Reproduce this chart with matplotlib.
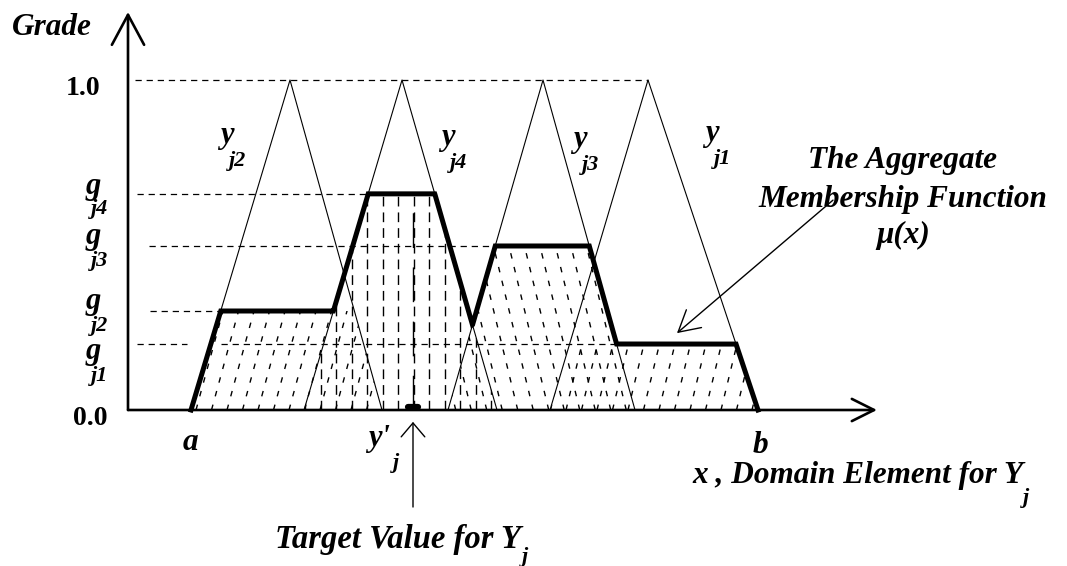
import numpy as np
import matplotlib
matplotlib.use("Agg")
import matplotlib.pyplot as plt
from matplotlib.patches import Polygon
from matplotlib.collections import LineCollection

plt.rcParams['lines.scale_dashes'] = False

# ---- data (domain units on x, grade on y) ----
tri_names = ['j2', 'j4', 'j3', 'j1']
tri_left = [0.63, 1.76, 3.20, 4.22]
tri_peak = [1.62, 2.74, 4.15, 5.20]
tri_right = [2.54, 3.69, 5.07, 6.30]
tri_grade = [0.30, 0.655, 0.497, 0.20]

grade_names = ['j4', 'j3', 'j2', 'j1']
grade_levels = [0.655, 0.497, 0.30, 0.20]
y_target = 2.85

# ---- style ----
hatch_lean = [0.9, 0.0, -0.8, 0.8]
hatch_dash = [(4.0, 6.2), (7.0, 4.3), (4.0, 6.2), (4.0, 6.2)]
tri_label_x = [0.99, 3.20, 4.52, 5.84]
tri_label_y = [0.809, 0.803, 0.797, 0.815]
g_label_y = [0.655, 0.503, 0.306, 0.155]
sub_y = [0.594, 0.436, 0.239, 0.088]

FONT = 'Liberation Serif'
fs = 22.5
fs_sub = 16

fig = plt.figure(figsize=(10.67, 5.66), dpi=100)
ax = fig.add_axes([0, 0, 1, 1])
ax.set_xlim(-1.28, 9.39)
ax.set_ylim(-156 / 330, 410 / 330)
ax.axis('off')


def tri(x, l, p, r):
    return np.clip(np.minimum((x - l) / (p - l), (r - x) / (r - p)), 0, None)


# triangles
for l, p, r in zip(tri_left, tri_peak, tri_right):
    ax.plot([l, p, r], [0, 1, 0], color='k', lw=0.8)

# hatching of each clipped triangle
for l, p, r, g, lean, dash in zip(tri_left, tri_peak, tri_right, tri_grade,
                                   hatch_lean, hatch_dash):
    verts = [(l, 0), (l + g * (p - l), g), (r - g * (r - p), g), (r, 0)]
    clip = Polygon(verts, closed=True, fill=False, edgecolor='none')
    ax.add_patch(clip)
    offs = np.arange(l - abs(lean) * g - 0.3, r + 0.3, 0.155)
    segs = [[(c, 0), (c + lean * (g + 0.05), g + 0.05)] for c in offs]
    lc = LineCollection(segs, colors='k', linewidths=1.0,
                        linestyles=[(0, dash)])
    lc.set_clip_path(clip)
    ax.add_collection(lc)

# aggregate membership function
xs = np.linspace(tri_left[0], tri_right[-1], 4000)
mu = np.max([np.minimum(tri(xs, l, p, r), g) for l, p, r, g in
             zip(tri_left, tri_peak, tri_right, tri_grade)], axis=0)
ax.plot(xs, mu, color='k', lw=3.6, solid_joinstyle='miter')

# horizontal dashed grade lines
gdash = (0, (4.5, 3.5))
ax.plot([0.07, max(tri_peak)], [1.0, 1.0], color='k', lw=0.9, ls=gdash)
ends = {}
for name, l, p, g in zip(tri_names, tri_left, tri_peak, tri_grade):
    ends[name] = l + g * (p - l)
# g1 runs to where y_j3 falls to g1
ends['j1'] = tri_right[2] - grade_levels[3] * (tri_right[2] - tri_peak[2])
starts = {'j4': 0.09, 'j3': 0.21, 'j2': 0.22, 'j1': 0.09}
for name, lev in zip(grade_names, grade_levels):
    if name == 'j1':
        ax.plot([starts[name], tri_left[0] - 0.04], [lev, lev], color='k', lw=0.9, ls=gdash)
        ax.plot([ends['j2'], ends[name]], [lev, lev], color='k', lw=0.9, ls=gdash)
    else:
        ax.plot([starts[name], ends[name]], [lev, lev], color='k', lw=0.9, ls=gdash)

# target value line
ax.plot([y_target, y_target], [0, grade_levels[0]], color='k', lw=1.0,
        ls=(0, (25, 14)))
ax.plot([y_target - 0.05, y_target + 0.05], [0.01, 0.01], color='k', lw=4.5,
        solid_capstyle='round')

# axes with arrows
ax.annotate('', xy=(7.49, 0), xytext=(0, 0),
            arrowprops=dict(arrowstyle='->,head_length=0.8,head_width=0.4',
                            lw=1.9, shrinkA=0, shrinkB=0, mutation_scale=20))
ax.annotate('', xy=(0, 1.206), xytext=(0, 0),
            arrowprops=dict(arrowstyle='->,head_length=1.08,head_width=0.58',
                            lw=1.9, shrinkA=0, shrinkB=0, mutation_scale=20))
# target arrow
ax.annotate('', xy=(y_target, -0.036), xytext=(y_target, -0.294),
            arrowprops=dict(arrowstyle='->,head_length=1.0,head_width=0.85',
                            lw=1.0, shrinkA=0, shrinkB=0, mutation_scale=10))
# aggregate arrow
ax.annotate('', xy=(5.49, 0.233), xytext=(7.05, 0.636),
            arrowprops=dict(arrowstyle='->,head_length=1.5,head_width=0.84',
                            lw=1.0, shrinkA=0, shrinkB=0, mutation_scale=10))

txt = dict(family=FONT, weight='bold', style='italic', color='k')

ax.text(-0.76, 1.136, 'Grade', fontsize=fs, ha='center', va='baseline', **txt)
ax.text(-0.28, 0.955, '1.0', fontsize=20, ha='right', va='baseline',
        family=FONT, weight='bold')
ax.text(-0.20, -0.045, '0.0', fontsize=20, ha='right', va='baseline',
        family=FONT, weight='bold')

for name, gy, sy in zip(grade_names, g_label_y, sub_y):
    ax.text(-0.345, gy, 'g', fontsize=22, ha='center', va='baseline', **txt)
    ax.text(-0.37, sy, name, fontsize=fs_sub, ha='left', va='baseline', **txt)

for name, lx, ly in zip(tri_names, tri_label_x, tri_label_y):
    ax.text(lx, ly, 'y', fontsize=22, ha='center', va='baseline', **txt)
    ax.text(lx + 0.02, ly - 0.07, name, fontsize=fs_sub, ha='left',
            va='baseline', **txt)

ax.text(7.75, 0.733, 'The Aggregate', fontsize=fs, ha='center', va='baseline', **txt)
ax.text(7.75, 0.615, 'Membership Function', fontsize=fs, ha='center', va='baseline', **txt)
ax.text(7.75, 0.506, r'μ(x)', fontsize=fs, ha='center', va='baseline', **txt)

ax.text(tri_left[0] - 0.01, -0.121, 'a', fontsize=fs, ha='center', va='baseline', **txt)
ax.text(tri_right[-1] + 0.02, -0.130, 'b', fontsize=fs, ha='center', va='baseline', **txt)

ax.text(5.64, -0.221, 'x , Domain Element for Y', fontsize=fs, ha='left',
        va='baseline', **txt)
ax.text(8.95, -0.282, 'j', fontsize=fs_sub, ha='left', va='baseline', **txt)

ax.text(2.40, -0.109, "y'", fontsize=22, ha='left', va='baseline', **txt)
ax.text(2.65, -0.176, 'j', fontsize=fs_sub, ha='left', va='baseline', **txt)

ax.text(1.47, -0.418, 'Target Value for Y', fontsize=23.5, ha='left',
        va='baseline', **txt)
ax.text(3.94, -0.46, 'j', fontsize=fs_sub, ha='left', va='baseline', **txt)

fig.savefig('out.png', dpi=100, facecolor='white')
